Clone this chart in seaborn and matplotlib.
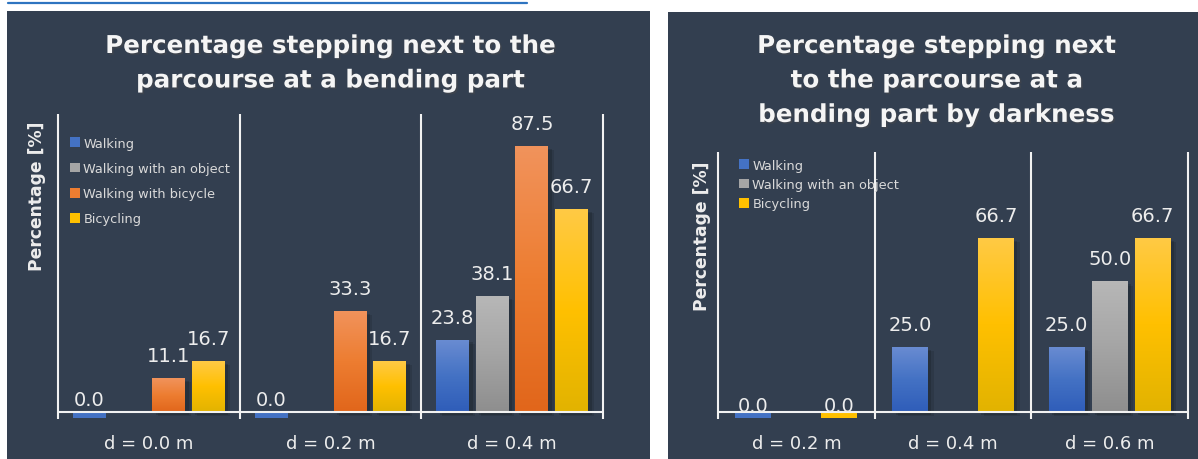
import numpy as np
import pandas as pd
import matplotlib
matplotlib.use("Agg")
import matplotlib.pyplot as plt
import matplotlib.patheffects as pe
from matplotlib.colors import LinearSegmentedColormap, to_rgba
from matplotlib.patches import Rectangle
from matplotlib.lines import Line2D
import seaborn as sns

# ---------------- data ----------------
series = ["Walking", "Walking with an object", "Walking with bicycle", "Bicycling"]

left_categories = ["d = 0.0 m", "d = 0.2 m", "d = 0.4 m"]
left_walking = [0.0, 0.0, 23.8]
left_object = [np.nan, np.nan, 38.1]
left_walk_bicycle = [11.1, 33.3, 87.5]
left_bicycling = [16.7, 16.7, 66.7]

right_categories = ["d = 0.2 m", "d = 0.4 m", "d = 0.6 m"]
right_walking = [0.0, 25.0, 25.0]
right_object = [np.nan, np.nan, 50.0]
right_bicycling = [0.0, 66.7, 66.7]

left_title = "Percentage stepping next to the\nparcourse at a bending part"
right_title = "Percentage stepping next\nto the parcourse at a\nbending part by darkness"
ylabel = "Percentage [%]"

# ---------------- style ----------------
W, H = 1198, 460
BG = "#333F50"
LINE = "#F2F2F2"
TXT = "#EDEDED"
base_colors = {
    "Walking": "#4472C4",
    "Walking with an object": "#A5A5A5",
    "Walking with bicycle": "#ED7D31",
    "Bicycling": "#FFC000",
}
grad_colors = {
    "Walking": ["#2F5DB9", "#4472C4", "#6A8CD2"],
    "Walking with an object": ["#8E8E8E", "#A5A5A5", "#B7B7B7"],
    "Walking with bicycle": ["#E1661B", "#ED7D31", "#F1935C"],
    "Bicycling": ["#E2B300", "#FFC000", "#FFCA45"],
}

sns.set_theme(style="white")
plt.rcParams["font.family"] = ["DejaVu Sans"]

fig = plt.figure(figsize=(W / 100, H / 100), dpi=100)
fig.patch.set_facecolor("white")

# panel backgrounds
fig.patches.append(Rectangle((7 / W, 0), (650 - 7) / W, (H - 12) / H,
                             transform=fig.transFigure, facecolor=BG, edgecolor="none", zorder=-10))
fig.patches.append(Rectangle((668 / W, 0), (W - 668) / W, (H - 13) / H,
                             transform=fig.transFigure, facecolor=BG, edgecolor="none", zorder=-10))
# hyperlink underline fragment at the very top
fig.add_artist(Line2D([8 / W, 527 / W], [1 - 3.5 / H, 1 - 3.5 / H], color="#2E74C0", lw=1.6,
                      transform=fig.transFigure))

shadow_fx = [
    pe.SimplePatchShadow(offset=(4, -3), shadow_rgbFace="black", alpha=0.10),
    pe.SimplePatchShadow(offset=(2.5, -2), shadow_rgbFace="black", alpha=0.14),
    pe.Normal(),
]


def make_df(categories, cols):
    rows = []
    for name, vals in zip(series, cols):
        if vals is None:
            continue
        for c, v in zip(categories, vals):
            rows.append({"category": c, "series": name, "value": v})
    return pd.DataFrame(rows).dropna()


def draw_panel(ax_rect, categories, cols, hue_order, ylim, width, gap, title, title_x,
               zero_off, legend_anchor, labelspacing):
    ax = fig.add_axes(ax_rect)
    ax.set_facecolor("none")
    df = make_df(categories, cols)
    pal = {k: base_colors[k] for k in hue_order}
    sns.barplot(data=df, x="category", y="value", hue="series", order=categories,
                hue_order=hue_order, palette=pal, width=width, gap=gap,
                errorbar=None, linewidth=0, saturation=1, ax=ax, zorder=3)
    ax.set_ylim(*ylim)
    ax.set_xlim(-0.5, len(categories) - 0.5)
    px_per_unit = ax_rect[3] * H / (ylim[1] - ylim[0])
    stub = 6.5 / px_per_unit
    tick = 7.0 / px_per_unit

    for cont in ax.containers:
        for p in cont.patches:
            h = p.get_height()
            if np.isnan(h):
                continue
            fc = to_rgba(p.get_facecolor())
            name = min(hue_order, key=lambda k: np.sum((np.array(to_rgba(base_colors[k])) - np.array(fc)) ** 2))
            cx = p.get_x() + p.get_width() / 2
            if h == 0:
                p.set_height(-stub)
                off = zero_off
            else:
                p.set_path_effects(shadow_fx)
                cmap = LinearSegmentedColormap.from_list(name, grad_colors[name])
                img = ax.imshow(np.linspace(0, 1, 128).reshape(-1, 1), cmap=cmap, origin="lower",
                                extent=(p.get_x(), p.get_x() + p.get_width(), 0, h),
                                aspect="auto", zorder=4, interpolation="bilinear")
                img.set_clip_path(p)
                off = 12.3
            ax.annotate(f"{h:.1f}", (cx, max(h, 0)), xytext=(0, off), textcoords="offset points",
                        ha="center", va="baseline", fontsize=14, color=TXT, zorder=6)
    ax.set_ylim(*ylim)
    ax.set_xlim(-0.5, len(categories) - 0.5)

    # axis lines
    n = len(categories)
    ax.vlines(np.arange(n + 1) - 0.5, -tick, ylim[1], color=LINE, lw=1.5, clip_on=False, zorder=5)
    ax.hlines(0, -0.5, n - 0.5, color=LINE, lw=1.5, clip_on=False, zorder=5)

    for s in ax.spines.values():
        s.set_visible(False)
    ax.set_yticks([])
    ax.set_xlabel("")
    ax.set_ylabel(ylabel, fontsize=12.3, fontweight="bold", color=TXT, va="center")
    ax.tick_params(axis="x", length=0, pad=7.5, labelsize=13, labelcolor=TXT)
    ax.grid(False)

    sns.move_legend(ax, loc="upper left", bbox_to_anchor=legend_anchor, frameon=False,
                    title=None, fontsize=9.3, labelcolor="#DADADA", handlelength=0.78,
                    handleheight=0.78, handletextpad=0.25, labelspacing=labelspacing,
                    borderpad=0, borderaxespad=0)
    for hnd in ax.get_legend().legend_handles:
        hnd.set_linewidth(0)

    fig.text(title_x / W, 1 - 35 / H, title, ha="center", va="top", fontsize=17.7,
             fontweight="bold", color="#F5F5F5", linespacing=1.55,
             path_effects=[pe.SimplePatchShadow(offset=(1.2, -1.2), alpha=0.45), pe.Normal()])
    return ax


# left panel: axes x 58..603, y 115..425 px
axL = draw_panel([58 / W, (H - 425) / H, 545 / W, 310 / H], left_categories,
                 [left_walking, left_object, left_walk_bicycle, left_bicycling], series,
                 ylim=(-12 / 3.04, 98.0), width=0.872, gap=0.167, title=left_title, title_x=331,
                 zero_off=5.0, legend_anchor=(0.022, 0.927), labelspacing=0.95)
axL.yaxis.set_label_coords(-0.0385, 0.739)

# right panel: axes x 718..1188, y 153..425 px
right_series = ["Walking", "Walking with an object", "Bicycling"]
axR = draw_panel([718 / W, (H - 425) / H, 470 / W, 272 / H], right_categories,
                 [right_walking, right_object, None, right_bicycling], right_series,
                 ylim=(-12 / 2.61, 99.6), width=0.823, gap=0.163, title=right_title, title_x=937,
                 zero_off=1.0, legend_anchor=(0.0447, 0.976), labelspacing=0.5)
axR.yaxis.set_label_coords(-0.034, 0.695)

fig.savefig("out.png", dpi=100, facecolor=fig.get_facecolor())
